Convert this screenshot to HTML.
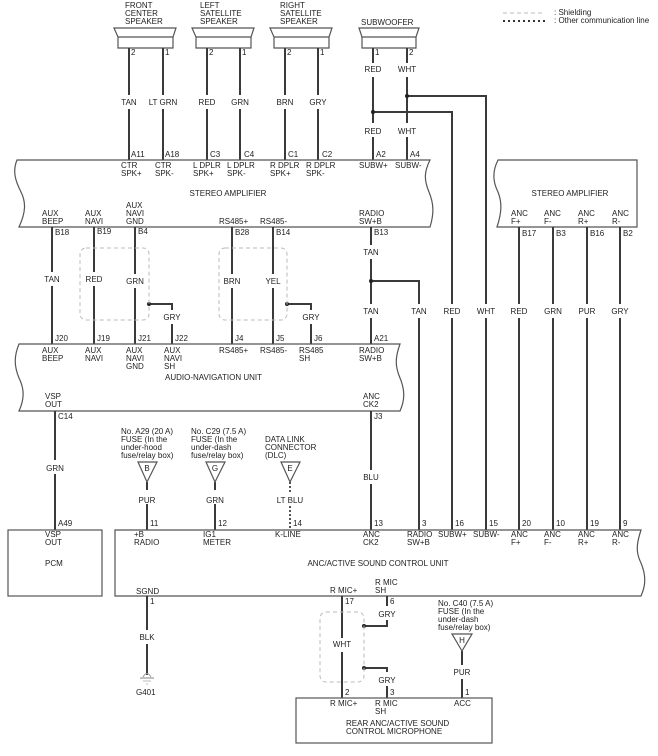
<!DOCTYPE html>
<html><head><meta charset="utf-8"><style>
body{margin:0;background:#fff}
svg{display:block}
text{font-family:"Liberation Sans",Arial,sans-serif;font-size:8px;fill:#222}
.w{stroke:#3a3a3a;stroke-width:2;fill:none}
.b{stroke:#555;stroke-width:1.2;fill:none}
.sh{stroke:#bbb;stroke-width:1;stroke-dasharray:4 3;fill:none}
.m{text-anchor:middle}
</style></head><body>
<svg width="658" height="756" viewBox="0 0 658 756" xmlns="http://www.w3.org/2000/svg">
<line x1="503" y1="13" x2="545" y2="13" stroke="#bbb" stroke-dasharray="4 3"/>
<line x1="503" y1="21" x2="545" y2="21" stroke="#333" stroke-width="2" stroke-dasharray="2 3"/>
<text x="554" y="15">: Shielding</text>
<text x="554" y="23">: Other communication line</text>

<g class="b">
<path d="M114,28 H176 L173,37 V48 H118 V37 Z"/><line x1="118" y1="37" x2="173" y2="37"/>
<path d="M192,28 H254 L251,37 V48 H196 V37 Z"/><line x1="196" y1="37" x2="251" y2="37"/>
<path d="M270,28 H332 L329,37 V48 H274 V37 Z"/><line x1="274" y1="37" x2="329" y2="37"/>
<path d="M359,28 H419 L416,37 V48 H362 V37 Z"/><line x1="362" y1="37" x2="416" y2="37"/>
</g>
<text x="125" y="8">FRONT</text><text x="125" y="16">CENTER</text><text x="125" y="24">SPEAKER</text>
<text x="200" y="8">LEFT</text><text x="200" y="16">SATELLITE</text><text x="200" y="24">SPEAKER</text>
<text x="280" y="8">RIGHT</text><text x="280" y="16">SATELLITE</text><text x="280" y="24">SPEAKER</text>
<text x="361" y="25">SUBWOOFER</text>

<g class="w">
<path d="M129,48 V95 M129,109 V160"/><path d="M163,48 V95 M163,109 V160"/>
<path d="M207,48 V95 M207,109 V160"/><path d="M240,48 V95 M240,109 V160"/>
<path d="M285,48 V95 M285,109 V160"/><path d="M318,48 V95 M318,109 V160"/>
<path d="M373,48 V63 M373,77 V123 M373,137 V160"/><path d="M407,48 V63 M407,77 V123 M407,137 V160"/>
<path d="M373,112 H452 V304 M452,318 V530"/><path d="M407,96 H486 V304 M486,318 V530"/>
</g>
<circle cx="373" cy="112" r="2" fill="#222"/><circle cx="407" cy="96" r="2" fill="#222"/>
<g>
<text x="131" y="55">2</text><text x="165" y="55">1</text><text x="209" y="55">2</text><text x="242" y="55">1</text>
<text x="287" y="55">2</text><text x="320" y="55">1</text><text x="375" y="55">1</text><text x="409" y="55">2</text>
</g>
<g class="m">
<text x="129" y="105">TAN</text><text x="163" y="105">LT GRN</text><text x="207" y="105">RED</text><text x="240" y="105">GRN</text>
<text x="285" y="105">BRN</text><text x="318" y="105">GRY</text><text x="373" y="72">RED</text><text x="407" y="72">WHT</text>
<text x="373" y="134">RED</text><text x="407" y="134">WHT</text>
</g>
<text x="131" y="157">A11</text><text x="165" y="157">A18</text><text x="210" y="157">C3</text><text x="244" y="157">C4</text>
<text x="288" y="157">C1</text><text x="322" y="157">C2</text><text x="376" y="157">A2</text><text x="410" y="157">A4</text>

<path class="b" d="M17,160 H430 C424,172 424,180 429,192 C434,204 434,214 430,227 H19 C26,212 26,202 21,192 C16,182 12,172 17,160 Z"/>
<text x="121" y="168">CTR</text><text x="121" y="176">SPK+</text>
<text x="155" y="168">CTR</text><text x="155" y="176">SPK-</text>
<text x="193" y="168">L DPLR</text><text x="193" y="176">SPK+</text>
<text x="227" y="168">L DPLR</text><text x="227" y="176">SPK-</text>
<text x="270" y="168">R DPLR</text><text x="270" y="176">SPK+</text>
<text x="306" y="168">R DPLR</text><text x="306" y="176">SPK-</text>
<text x="359" y="168">SUBW+</text><text x="395" y="168">SUBW-</text>
<text x="228" y="196" class="m">STEREO AMPLIFIER</text>
<text x="42" y="216">AUX</text><text x="42" y="224">BEEP</text>
<text x="85" y="216">AUX</text><text x="85" y="224">NAVI</text>
<text x="126" y="208">AUX</text><text x="126" y="216">NAVI</text><text x="126" y="224">GND</text>
<text x="219" y="224">RS485+</text><text x="260" y="224">RS485-</text>
<text x="359" y="216">RADIO</text><text x="359" y="224">SW+B</text>

<path class="b" d="M498,160 H637 V227 H497 C502,212 502,202 498,192 C493,182 492,172 498,160 Z"/>
<text x="570" y="196" class="m">STEREO AMPLIFIER</text>
<text x="511" y="216">ANC</text><text x="511" y="224">F+</text>
<text x="544" y="216">ANC</text><text x="544" y="224">F-</text>
<text x="578" y="216">ANC</text><text x="578" y="224">R+</text>
<text x="612" y="216">ANC</text><text x="612" y="224">R-</text>
<g class="w">
<path d="M519,227 V304 M519,318 V530"/><path d="M553,227 V304 M553,318 V530"/>
<path d="M587,227 V304 M587,318 V530"/><path d="M620,227 V304 M620,318 V530"/>
</g>
<text x="522" y="236">B17</text><text x="556" y="236">B3</text><text x="590" y="236">B16</text><text x="623" y="236">B2</text>
<g class="m"><text x="519" y="314">RED</text><text x="553" y="314">GRN</text><text x="587" y="314">PUR</text><text x="620" y="314">GRY</text>
<text x="452" y="314">RED</text><text x="486" y="314">WHT</text><text x="419" y="314">TAN</text></g>

<g class="w">
<path d="M52,227 V272 M52,286 V344"/><path d="M94,227 V272 M94,286 V344"/><path d="M135,227 V274 M135,288 V344"/>
<path d="M149,304 H172 V310 M172,324 V344"/>
<path d="M232,227 V274 M232,288 V344"/><path d="M273,227 V274 M273,288 V344"/>
<path d="M287,304 H311 V310 M311,324 V344"/>
<path d="M371,227 V245 M371,259 V304 M371,318 V344"/><path d="M371,281 H419 V304 M419,318 V530"/>
</g>
<circle cx="149" cy="304" r="2" fill="#222"/><circle cx="287" cy="304" r="2" fill="#222"/><circle cx="371" cy="281" r="2" fill="#222"/>
<rect class="sh" x="80" y="248" width="69" height="72" rx="6"/>
<rect class="sh" x="219" y="248" width="68" height="72" rx="6"/>
<text x="55" y="235">B18</text><text x="97" y="234">B19</text><text x="138" y="234">B4</text>
<text x="235" y="235">B28</text><text x="276" y="235">B14</text><text x="374" y="235">B13</text>
<g class="m"><text x="52" y="282">TAN</text><text x="94" y="282">RED</text><text x="135" y="284">GRN</text><text x="172" y="320">GRY</text>
<text x="232" y="284">BRN</text><text x="273" y="284">YEL</text><text x="311" y="320">GRY</text>
<text x="371" y="255">TAN</text><text x="371" y="314">TAN</text></g>
<text x="55" y="341">J20</text><text x="97" y="341">J19</text><text x="138" y="341">J21</text><text x="175" y="341">J22</text>
<text x="235" y="341">J4</text><text x="276" y="341">J5</text><text x="314" y="341">J6</text><text x="374" y="341">A21</text>

<path class="b" d="M19,344 H400 C395,358 395,366 400,378 C405,390 405,400 400,411 H19 C25,398 24,388 19,378 C14,366 14,356 19,344 Z"/>
<text x="42" y="353">AUX</text><text x="42" y="361">BEEP</text>
<text x="85" y="353">AUX</text><text x="85" y="361">NAVI</text>
<text x="126" y="353">AUX</text><text x="126" y="361">NAVI</text><text x="126" y="369">GND</text>
<text x="164" y="353">AUX</text><text x="164" y="361">NAVI</text><text x="164" y="369">SH</text>
<text x="219" y="353">RS485+</text><text x="260" y="353">RS485-</text>
<text x="299" y="353">RS485</text><text x="299" y="361">SH</text>
<text x="359" y="353">RADIO</text><text x="359" y="361">SW+B</text>
<text x="165" y="380">AUDIO-NAVIGATION UNIT</text>
<text x="45" y="399">VSP</text><text x="45" y="407">OUT</text>
<text x="363" y="399">ANC</text><text x="363" y="407">CK2</text>

<g class="w">
<path d="M55,411 V460 M55,474 V530"/>
<path d="M371,411 V470 M371,484 V530"/>
<path d="M147,482 V490 M147,504 V530"/>
<path d="M215,482 V490 M215,504 V530"/>
</g>
<path d="M290,482 V492 M290,506 V530" stroke="#555" stroke-width="2" stroke-dasharray="2 2"/>
<text x="58" y="419">C14</text><text x="374" y="419">J3</text>
<g class="m"><text x="55" y="471">GRN</text><text x="371" y="480">BLU</text><text x="147" y="503">PUR</text><text x="215" y="503">GRN</text><text x="290" y="503">LT BLU</text></g>
<text x="121" y="434">No. A29 (20 A)</text><text x="121" y="442">FUSE (In the</text><text x="121" y="450">under-hood</text><text x="121" y="458">fuse/relay box)</text>
<text x="191" y="434">No. C29 (7.5 A)</text><text x="191" y="442">FUSE (In the</text><text x="191" y="450">under-dash</text><text x="191" y="458">fuse/relay box)</text>
<text x="265" y="442">DATA LINK</text><text x="265" y="450">CONNECTOR</text><text x="265" y="458">(DLC)</text>
<g class="b"><path d="M138,462 H157 L147,482 Z"/><path d="M206,462 H225 L215,482 Z"/><path d="M281,462 H300 L290,482 Z"/></g>
<g class="m"><text x="147" y="471">B</text><text x="215" y="471">G</text><text x="290" y="471">E</text></g>

<rect class="b" x="8" y="530" width="94" height="66"/>
<text x="58" y="526">A49</text>
<text x="45" y="537">VSP</text><text x="45" y="545">OUT</text>
<text x="45" y="566">PCM</text>

<path class="b" d="M115,530 H641 C636,545 636,553 641,563 C646,575 646,585 641,596 H115 Z"/>
<text x="150" y="526">11</text><text x="218" y="526">12</text><text x="293" y="526">14</text><text x="374" y="526">13</text>
<text x="422" y="526">3</text><text x="455" y="526">16</text><text x="489" y="526">15</text><text x="522" y="526">20</text>
<text x="556" y="526">10</text><text x="590" y="526">19</text><text x="623" y="526">9</text>
<text x="134" y="537">+B</text><text x="134" y="545">RADIO</text>
<text x="203" y="537">IG1</text><text x="203" y="545">METER</text>
<text x="275" y="537">K-LINE</text>
<text x="363" y="537">ANC</text><text x="363" y="545">CK2</text>
<text x="407" y="537">RADIO</text><text x="407" y="545">SW+B</text>
<text x="438" y="537">SUBW+</text><text x="473" y="537">SUBW-</text>
<text x="511" y="537">ANC</text><text x="511" y="545">F+</text>
<text x="544" y="537">ANC</text><text x="544" y="545">F-</text>
<text x="578" y="537">ANC</text><text x="578" y="545">R+</text>
<text x="612" y="537">ANC</text><text x="612" y="545">R-</text>
<text x="378" y="566" class="m">ANC/ACTIVE SOUND CONTROL UNIT</text>
<text x="136" y="594">SGND</text>
<text x="330" y="593">R MIC+</text>
<text x="375" y="585">R MIC</text><text x="375" y="593">SH</text>

<g class="w">
<path d="M147,596 V630 M147,644 V675"/>
<path d="M342,596 V638 M342,652 V698"/>
<path d="M364,626 H387 V620 M387,606 V596"/>
<path d="M364,668 H387 V672 M387,686 V698"/>
<path d="M462,651 V665 M462,679 V698"/>
</g>
<circle cx="364" cy="626" r="2" fill="#222"/><circle cx="364" cy="668" r="2" fill="#222"/>
<rect class="sh" x="320" y="612" width="44" height="70" rx="6"/>
<path d="M143,677 Q147,670 151,677" stroke="#999" fill="none"/>
<line x1="140" y1="678" x2="154" y2="678" stroke="#999" stroke-width="1.2"/>
<line x1="143" y1="681" x2="151" y2="681" stroke="#bbb"/>
<line x1="146" y1="684" x2="148" y2="684" stroke="#bbb"/>
<text x="136" y="695">G401</text>
<text x="150" y="604">1</text><text x="345" y="604">17</text><text x="390" y="604">6</text>
<g class="m"><text x="147" y="640">BLK</text><text x="342" y="647">WHT</text><text x="387" y="617">GRY</text><text x="387" y="683">GRY</text><text x="462" y="675">PUR</text></g>
<text x="438" y="606">No. C40 (7.5 A)</text><text x="438" y="614">FUSE (In the</text><text x="438" y="622">under-dash</text><text x="438" y="630">fuse/relay box)</text>
<path class="b" d="M452,634 H472 L462,651 Z"/><text x="462" y="643" class="m">H</text>
<text x="345" y="695">2</text><text x="390" y="695">3</text><text x="465" y="695">1</text>
<rect class="b" x="296" y="698" width="196" height="45"/>
<text x="330" y="706">R MIC+</text>
<text x="375" y="706">R MIC</text><text x="375" y="714">SH</text>
<text x="454" y="706">ACC</text>
<text x="346" y="726">REAR ANC/ACTIVE SOUND</text><text x="346" y="734">CONTROL MICROPHONE</text>
</svg>
</body></html>
